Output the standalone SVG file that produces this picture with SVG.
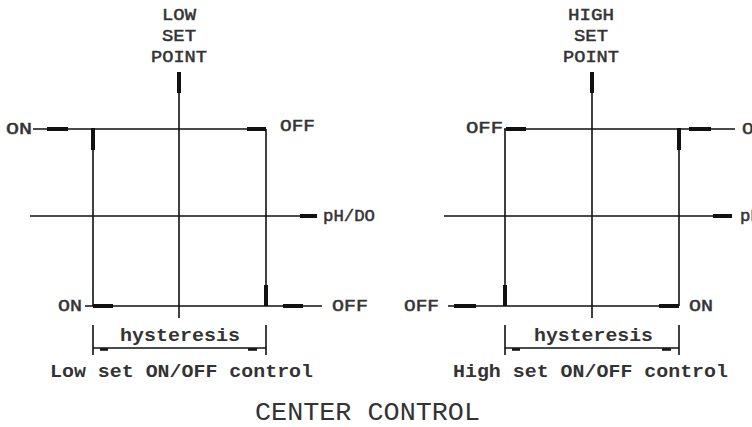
<svg xmlns="http://www.w3.org/2000/svg" width="752" height="427" viewBox="0 0 752 427">
<style>
.thin{stroke:#111;stroke-width:1.6;fill:none}
.thick{stroke:#111;stroke-width:4;fill:none}
.lbl{font-family:"Liberation Mono","Courier New",monospace;font-size:17px;font-weight:normal;fill:#333;stroke:#333;stroke-width:0.5}
.cap{font-family:"Liberation Mono","Courier New",monospace;font-size:18px;font-weight:bold;fill:#333}
.title{font-family:"Liberation Mono","Courier New",monospace;font-size:25px;fill:#333}
</style>
<rect width="752" height="427" fill="#fff"/>
<g id="connectors">
  <!-- left diagram -->
  <path class="thin" d="M179 72V318 M33 129H266 M93 129V306 M266 129V306 M30 216H300 M85 306H322"/>
  <path class="thick" d="M179 72V93 M47 129H68 M247 129H266 M93 128V150 M266 285V306 M300 216H317 M93 306H113 M283 306H303"/>
  <path class="thin" d="M93 325V355 M266 325V355 M93 348H266"/>
  <path class="thick" d="M100 349.5H108 M248 349.5H257" style="stroke-width:2.5"/>
  <!-- right diagram -->
  <path class="thin" d="M592 72V318 M504 129H735 M505 129V306 M679 129V306 M444 216H713 M448 306H679"/>
  <path class="thick" d="M592 72V93 M506 129H526 M689 129H711 M679 128V150 M505 285V306 M713 216H732 M454 306H476 M659 306H679"/>
  <path class="thin" d="M505 325V355 M679 325V355 M505 348H679"/>
  <path class="thick" d="M512 349.5H520 M662 349.5H671" style="stroke-width:2.5"/>
</g>
<g id="low-setpoint">
  <text class="lbl" x="179" y="20" text-anchor="middle" textLength="34" lengthAdjust="spacingAndGlyphs">LOW</text>
  <text class="lbl" x="179" y="41" text-anchor="middle" textLength="34" lengthAdjust="spacingAndGlyphs">SET</text>
  <text class="lbl" x="179" y="62" text-anchor="middle" textLength="56" lengthAdjust="spacingAndGlyphs">POINT</text>
</g>
<g id="low-labels">
  <text class="lbl" x="6" y="134" textLength="26" lengthAdjust="spacingAndGlyphs">ON</text>
  <text class="lbl" x="280" y="131" textLength="35" lengthAdjust="spacingAndGlyphs">OFF</text>
  <text class="lbl" x="323" y="221" textLength="52" lengthAdjust="spacingAndGlyphs">pH/DO</text>
  <text class="lbl" x="58" y="311" textLength="24" lengthAdjust="spacingAndGlyphs">ON</text>
  <text class="lbl" x="332" y="311" textLength="36" lengthAdjust="spacingAndGlyphs">OFF</text>
  <text class="cap" x="120" y="341" textLength="120" lengthAdjust="spacingAndGlyphs">hysteresis</text>
  <text class="cap" x="50" y="377" textLength="263" lengthAdjust="spacingAndGlyphs">Low set ON/OFF control</text>
</g>
<g id="high-setpoint">
  <text class="lbl" x="591" y="20" text-anchor="middle" textLength="46" lengthAdjust="spacingAndGlyphs">HIGH</text>
  <text class="lbl" x="591" y="41" text-anchor="middle" textLength="34" lengthAdjust="spacingAndGlyphs">SET</text>
  <text class="lbl" x="591" y="62" text-anchor="middle" textLength="56" lengthAdjust="spacingAndGlyphs">POINT</text>
</g>
<g id="high-labels">
  <text class="lbl" x="466" y="133" textLength="37" lengthAdjust="spacingAndGlyphs">OFF</text>
  <text class="lbl" x="742" y="134" textLength="35" lengthAdjust="spacingAndGlyphs">OFF</text>
  <text class="lbl" x="740" y="221" textLength="52" lengthAdjust="spacingAndGlyphs">pH/DO</text>
  <text class="lbl" x="404" y="311" textLength="35" lengthAdjust="spacingAndGlyphs">OFF</text>
  <text class="lbl" x="689" y="311" textLength="24" lengthAdjust="spacingAndGlyphs">ON</text>
  <text class="cap" x="534" y="341" textLength="119" lengthAdjust="spacingAndGlyphs">hysteresis</text>
  <text class="cap" x="453" y="377" textLength="275" lengthAdjust="spacingAndGlyphs">High set ON/OFF control</text>
</g>
<g id="title">
  <text class="title" x="255" y="420" textLength="225" lengthAdjust="spacingAndGlyphs">CENTER CONTROL</text>
</g>
</svg>
